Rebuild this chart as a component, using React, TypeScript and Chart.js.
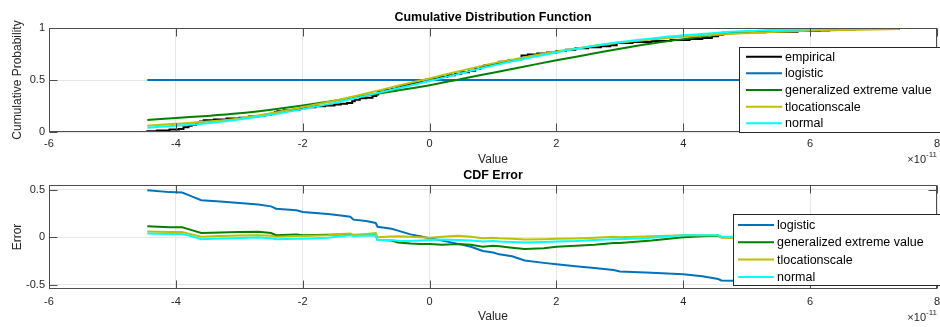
import React, { useEffect, useRef } from "react";
import { Chart, registerables } from "chart.js";

Chart.register(...registerables);

// Values on the x axis are in units of 1e-11.
const xTickValues = [-6, -4, -2, 0, 2, 4, 6, 8];
const cdfTickValues = [0, 0.5, 1];
const errTickValues = [-0.5, 0, 0.5];

// Empirical CDF (stair steps)
const empiricalX = [-4.45, -4.45, -4.3, -4.1, -3.95, -3.88, -3.8, -3.75, -3.68, -3.62, -3.56, -3.4, -3.2, -3.0, -2.85, -2.7, -2.6, -2.5, -2.44, -2.4, -2.3, -2.15, -2.05, -1.95, -1.8, -1.65, -1.5, -1.4, -1.3, -1.22, -1.18, -1.1, -1.0, -0.9, -0.84, -0.81, -0.7, -0.6, -0.52, -0.45, -0.38, -0.3, -0.22, -0.12, -0.05, 0.05, 0.15, 0.28, 0.4, 0.5, 0.62, 0.72, 0.8, 0.87, 1.0, 1.1, 1.25, 1.38, 1.45, 1.55, 1.7, 1.85, 2.0, 2.15, 2.3, 2.5, 2.7, 2.85, 2.95, 3.2, 3.5, 3.8, 4.1, 4.3, 4.45, 4.55, 4.62, 4.9, 5.3, 5.8, 6.15, 6.3, 6.7, 7.1, 7.4];
const empiricalF = [0, 0.008, 0.015, 0.025, 0.03, 0.045, 0.06, 0.07, 0.085, 0.1, 0.112, 0.12, 0.13, 0.138, 0.148, 0.155, 0.165, 0.175, 0.19, 0.2, 0.208, 0.215, 0.228, 0.238, 0.248, 0.255, 0.265, 0.272, 0.28, 0.295, 0.31, 0.325, 0.33, 0.345, 0.36, 0.39, 0.405, 0.415, 0.43, 0.445, 0.455, 0.47, 0.48, 0.495, 0.505, 0.515, 0.53, 0.545, 0.56, 0.575, 0.59, 0.605, 0.625, 0.645, 0.655, 0.675, 0.69, 0.7, 0.735, 0.745, 0.755, 0.765, 0.78, 0.79, 0.805, 0.815, 0.825, 0.835, 0.855, 0.865, 0.875, 0.885, 0.895, 0.905, 0.92, 0.935, 0.955, 0.96, 0.965, 0.97, 0.975, 0.985, 0.99, 0.995, 1.0];

// Fitted CDFs
const logisticX = [-4.45, 7.4];
const logisticCdf = [0.5, 0.5];
const fitX = [-4.45, -4, -3.5, -3, -2.5, -2, -1.5, -1, -0.5, 0, 0.5, 1, 1.5, 2, 2.5, 3, 3.5, 4, 4.5, 5, 5.5, 6, 6.5, 7, 7.4];
const gevCdf = [0.115, 0.135, 0.155, 0.18, 0.215, 0.255, 0.3, 0.35, 0.4, 0.45, 0.51, 0.57, 0.63, 0.69, 0.745, 0.8, 0.85, 0.893, 0.932, 0.962, 0.98, 0.991, 0.997, 0.999, 1.0];
const tlsCdf = [0.06, 0.08, 0.1, 0.13, 0.18, 0.24, 0.3, 0.37, 0.445, 0.515, 0.59, 0.66, 0.72, 0.775, 0.82, 0.86, 0.89, 0.915, 0.935, 0.95, 0.963, 0.973, 0.98, 0.986, 0.99];
const normalCdf = [0.042, 0.06, 0.085, 0.12, 0.165, 0.22, 0.28, 0.35, 0.42, 0.49, 0.565, 0.64, 0.705, 0.765, 0.82, 0.865, 0.9, 0.93, 0.953, 0.97, 0.981, 0.989, 0.994, 0.997, 0.998];

// CDF error (fit minus empirical)
const errX = [-4.45, -4.1, -3.9, -3.75, -3.6, -3.3, -3.0, -2.7, -2.5, -2.42, -2.1, -2.0, -1.6, -1.4, -1.25, -1.2, -1.0, -0.85, -0.82, -0.6, -0.5, -0.3, -0.15, 0, 0.2, 0.45, 0.65, 0.84, 1.0, 1.1, 1.3, 1.5, 1.8, 2.0, 2.3, 2.6, 2.9, 3.0, 3.5, 4.0, 4.3, 4.55, 4.6, 5.0, 5.5, 6.0, 6.5, 7.0, 7.4];
const logisticErr = [0.495, 0.475, 0.47, 0.43, 0.39, 0.375, 0.36, 0.345, 0.325, 0.3, 0.285, 0.265, 0.245, 0.23, 0.215, 0.185, 0.17, 0.15, 0.11, 0.09, 0.07, 0.03, 0.01, -0.01, -0.035, -0.07, -0.1, -0.145, -0.16, -0.18, -0.2, -0.245, -0.27, -0.285, -0.305, -0.325, -0.345, -0.36, -0.375, -0.39, -0.41, -0.44, -0.455, -0.46, -0.47, -0.475, -0.49, -0.495, -0.5];
const gevErr = [0.115, 0.105, 0.105, 0.075, 0.045, 0.05, 0.055, 0.057, 0.045, 0.022, 0.028, 0.02, 0.025, 0.03, 0.03, 0.02, 0.022, 0.022, -0.028, -0.035, -0.055, -0.065, -0.07, -0.07, -0.08, -0.07, -0.08, -0.1, -0.09, -0.095, -0.11, -0.125, -0.115, -0.1, -0.09, -0.08, -0.06, -0.06, -0.035, 0.0, 0.01, 0.015, 0.0, -0.005, -0.003, 0.005, 0.004, 0.002, 0.0];
const tlsErr = [0.06, 0.055, 0.055, 0.03, 0.005, 0.012, 0.018, 0.022, 0.015, 0.004, 0.012, 0.012, 0.02, 0.035, 0.04, 0.025, 0.035, 0.043, 0.0, 0.008, 0.01, 0.005, 0.0, -0.005, 0.005, 0.015, 0.005, -0.01, -0.005, -0.01, -0.015, -0.025, -0.02, -0.015, -0.012, -0.005, 0.005, 0.0, 0.01, 0.02, 0.02, 0.02, -0.005, -0.005, -0.008, -0.002, -0.005, -0.008, -0.01];
const normalErr = [0.04, 0.035, 0.035, 0.01, -0.02, -0.012, -0.008, -0.003, -0.01, -0.022, -0.015, -0.015, -0.005, 0.01, 0.02, 0.012, 0.018, 0.02, -0.03, -0.03, -0.038, -0.04, -0.035, -0.03, -0.025, -0.03, -0.035, -0.045, -0.04, -0.045, -0.05, -0.056, -0.05, -0.045, -0.04, -0.03, -0.02, -0.02, -0.005, 0.02, 0.022, 0.02, 0.004, 0.005, 0.005, 0.004, 0.003, 0.002, 0.002];

const FONT = "'Liberation Sans', Arial, Helvetica, sans-serif";
const AXIS = "#262626";
const GRID = "#e6e6e6";
const COLORS = {
  empirical: "#000000",
  logistic: "#0072bd",
  gev: "#008000",
  tls: "#bfbf00",
  normal: "#00ffff",
};

const pts = (xs: number[], ys: number[]) => xs.map((x, i) => ({ x, y: ys[i] }));

type LegendItem = { label: string; color: string };
type Decor = {
  title: string;
  titleY: number;
  yLabel: string;
  xLabelY: number;
  expY: number;
  legend: {
    left: number;
    top: number;
    bottom: number;
    firstRow: number;
    rowStep: number;
    lineX0: number;
    lineX1: number;
    textX: number;
    items: LegendItem[];
  };
};

function decorPlugin(d: Decor) {
  return {
    id: "decor",
    afterDraw(chart: any) {
      const { ctx, chartArea: a, scales } = chart;
      const xs = scales.x;
      const ys = scales.y;
      ctx.save();

      // axes box with inward tick marks
      ctx.strokeStyle = "#4d4d4d";
      ctx.lineWidth = 1;
      const L = Math.round(a.left) + 0.5;
      const R = Math.round(a.right) - 0.5;
      const T = Math.round(a.top) + 0.5;
      const B = Math.round(a.bottom) - 0.5;
      ctx.strokeRect(L, T, R - L, B - T);
      const tl = 8;
      ctx.beginPath();
      xs.ticks.forEach((t: any) => {
        const px = Math.round(xs.getPixelForValue(t.value)) + 0.5;
        ctx.moveTo(px, B);
        ctx.lineTo(px, B - tl);
        ctx.moveTo(px, T);
        ctx.lineTo(px, T + tl);
      });
      ys.ticks.forEach((t: any) => {
        const py = Math.round(ys.getPixelForValue(t.value)) + 0.5;
        ctx.moveTo(L, py);
        ctx.lineTo(L + tl, py);
        ctx.moveTo(R, py);
        ctx.lineTo(R - tl, py);
      });
      ctx.stroke();

      // legend box
      const lg = d.legend;
      ctx.fillStyle = "#ffffff";
      ctx.fillRect(lg.left, lg.top, chart.width - lg.left + 4, lg.bottom - lg.top);
      ctx.strokeStyle = "#262626";
      ctx.strokeRect(lg.left + 0.5, lg.top + 0.5, chart.width - lg.left + 4, lg.bottom - lg.top - 1);
      ctx.font = `12.5px ${FONT}`;
      ctx.textAlign = "left";
      ctx.textBaseline = "middle";
      lg.items.forEach((it, i) => {
        const y = lg.firstRow + i * lg.rowStep;
        ctx.strokeStyle = it.color;
        ctx.lineWidth = 2;
        ctx.beginPath();
        ctx.moveTo(lg.lineX0, y);
        ctx.lineTo(lg.lineX1, y);
        ctx.stroke();
        ctx.fillStyle = "#000000";
        ctx.fillText(it.label, lg.textX, y + 0.5);
      });

      // title
      const cx = (a.left + a.right) / 2;
      ctx.fillStyle = "#000000";
      ctx.font = `bold 12.5px ${FONT}`;
      ctx.textAlign = "center";
      ctx.fillText(d.title, cx, d.titleY);

      // axis labels
      ctx.fillStyle = AXIS;
      ctx.font = `12px ${FONT}`;
      ctx.fillText("Value", cx, d.xLabelY);
      ctx.save();
      ctx.translate(18, (a.top + a.bottom) / 2);
      ctx.rotate(-Math.PI / 2);
      ctx.fillText(d.yLabel, 0, 0);
      ctx.restore();

      // exponent of the x axis
      ctx.font = `11px ${FONT}`;
      ctx.textAlign = "right";
      ctx.fillText("\u00d710", 926, d.expY);
      ctx.font = `8px ${FONT}`;
      ctx.textAlign = "left";
      ctx.fillText("-11", 926, d.expY - 5);

      ctx.restore();
    },
  };
}

function buildScales(yMin: number, yMax: number, yTicks: number[], xAxisHeight: number, xPad: number) {
  return {
    x: {
      type: "linear",
      min: -6,
      max: 8,
      afterBuildTicks: (s: any) => {
        s.ticks = xTickValues.map((v) => ({ value: v }));
      },
      afterFit: (s: any) => {
        s.height = xAxisHeight;
        s.paddingLeft = 0;
        s.paddingRight = 0;
      },
      grid: { color: GRID, drawTicks: false, lineWidth: 1 },
      border: { display: false },
      ticks: {
        padding: xPad,
        color: AXIS,
        font: { family: FONT, size: 11 },
        maxRotation: 0,
        autoSkip: false,
        callback: (v: any) => String(v),
      },
    },
    y: {
      type: "linear",
      min: yMin,
      max: yMax,
      afterBuildTicks: (s: any) => {
        s.ticks = yTicks.map((v) => ({ value: v }));
      },
      afterFit: (s: any) => {
        s.width = 49;
        s.paddingTop = 0;
        s.paddingBottom = 0;
      },
      grid: { color: GRID, drawTicks: false, lineWidth: 1 },
      border: { display: false },
      ticks: {
        padding: 4,
        color: AXIS,
        font: { family: FONT, size: 11 },
        autoSkip: false,
        callback: (v: any) => String(v),
      },
    },
  };
}

const lineStyle = (color: string, order: number) => ({
  borderColor: color,
  backgroundColor: color,
  borderWidth: 2,
  pointRadius: 0,
  fill: false,
  order,
});

export default function App() {
  const topRef = useRef<HTMLCanvasElement>(null);
  const botRef = useRef<HTMLCanvasElement>(null);

  useEffect(() => {
    const topChart = new Chart(topRef.current as HTMLCanvasElement, {
      type: "line",
      data: {
        datasets: [
          { label: "empirical", data: pts(empiricalX, empiricalF), stepped: true, ...lineStyle(COLORS.empirical, 5) },
          { label: "logistic", data: pts(logisticX, logisticCdf), ...lineStyle(COLORS.logistic, 4) },
          { label: "generalized extreme value", data: pts(fitX, gevCdf), cubicInterpolationMode: "monotone", ...lineStyle(COLORS.gev, 3) },
          { label: "tlocationscale", data: pts(fitX, tlsCdf), cubicInterpolationMode: "monotone", ...lineStyle(COLORS.tls, 2) },
          { label: "normal", data: pts(fitX, normalCdf), cubicInterpolationMode: "monotone", ...lineStyle(COLORS.normal, 1) },
        ],
      } as any,
      options: {
        responsive: false,
        animation: false,
        events: [],
        layout: { padding: { top: 28, left: 0, right: 3, bottom: 0 } },
        plugins: { legend: { display: false }, tooltip: { enabled: false } },
        scales: buildScales(0, 1, cdfTickValues, 33, 5) as any,
      },
      plugins: [
        decorPlugin({
          title: "Cumulative Distribution Function",
          titleY: 17.5,
          yLabel: "Cumulative Probability",
          xLabelY: 159.5,
          expY: 160,
          legend: {
            left: 739,
            top: 47,
            bottom: 133,
            firstRow: 56.7,
            rowStep: 16.65,
            lineX0: 746,
            lineX1: 782,
            textX: 785,
            items: [
              { label: "empirical", color: COLORS.empirical },
              { label: "logistic", color: COLORS.logistic },
              { label: "generalized extreme value", color: COLORS.gev },
              { label: "tlocationscale", color: COLORS.tls },
              { label: "normal", color: COLORS.normal },
            ],
          },
        }),
      ],
    });

    const botChart = new Chart(botRef.current as HTMLCanvasElement, {
      type: "line",
      data: {
        datasets: [
          { label: "logistic", data: pts(errX, logisticErr), ...lineStyle(COLORS.logistic, 4) },
          { label: "generalized extreme value", data: pts(errX, gevErr), ...lineStyle(COLORS.gev, 3) },
          { label: "tlocationscale", data: pts(errX, tlsErr), ...lineStyle(COLORS.tls, 2) },
          { label: "normal", data: pts(errX, normalErr), ...lineStyle(COLORS.normal, 1) },
        ],
      } as any,
      options: {
        responsive: false,
        animation: false,
        events: [],
        layout: { padding: { top: 20, left: 0, right: 3, bottom: 0 } },
        plugins: { legend: { display: false }, tooltip: { enabled: false } },
        scales: buildScales(-0.545, 0.55, errTickValues, 38, 6) as any,
      },
      plugins: [
        decorPlugin({
          title: "CDF Error",
          titleY: 10.6,
          yLabel: "Error",
          xLabelY: 151.7,
          expY: 153,
          legend: {
            left: 733,
            top: 49,
            bottom: 121,
            firstRow: 60,
            rowStep: 17.3,
            lineX0: 738,
            lineX1: 774,
            textX: 777,
            items: [
              { label: "logistic", color: COLORS.logistic },
              { label: "generalized extreme value", color: COLORS.gev },
              { label: "tlocationscale", color: COLORS.tls },
              { label: "normal", color: COLORS.normal },
            ],
          },
        }),
      ],
    });

    return () => {
      topChart.destroy();
      botChart.destroy();
    };
  }, []);

  return (
    <div style={{ position: "fixed", left: 0, top: 0, width: 940, height: 327, background: "#ffffff" }}>
      <canvas ref={topRef} width={940} height={165} style={{ position: "absolute", left: 0, top: 0 }} />
      <canvas ref={botRef} width={940} height={162} style={{ position: "absolute", left: 0, top: 165 }} />
    </div>
  );
}
